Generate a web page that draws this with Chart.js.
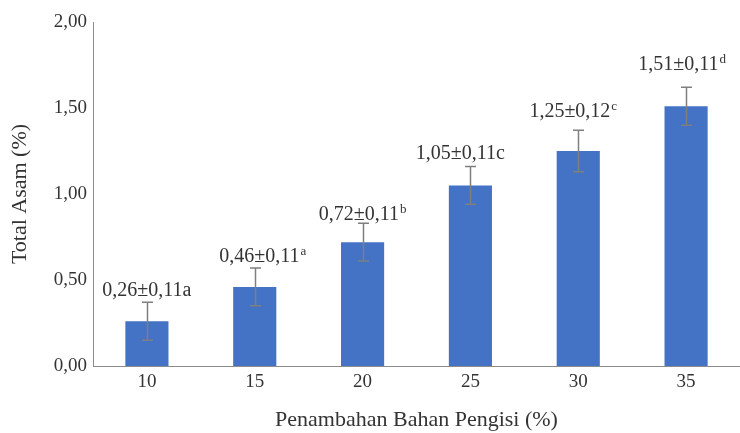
<!DOCTYPE html>
<html>
<head>
<meta charset="utf-8">
<script src="https://cdn.jsdelivr.net/npm/chart.js@4/dist/chart.umd.min.js"></script>
<style>
  html, body { margin: 0; padding: 0; background: #ffffff; }
  #wrap { width: 740px; height: 433px; position: relative; }
</style>
</head>
<body>
<div id="wrap"><canvas id="chart"></canvas></div>
<script>
// Filler percentage (x categories)
const categories = ['10', '15', '20', '25', '30', '35'];
// Mean total acid (%) and its standard deviation
const totalAsam = [0.26, 0.46, 0.72, 1.05, 1.25, 1.51];
const stdDev = [0.11, 0.11, 0.11, 0.11, 0.12, 0.11];
// Significance letters; some are printed as superscripts
const letters = ['a', 'a', 'b', 'c', 'c', 'd'];
const letterIsSup = [false, true, true, false, true, true];
// Y axis ticks
const yTicks = [0, 0.5, 1.0, 1.5, 2.0];

// Hand-placed label nudges (pixels): lift above error cap, horizontal shift
const labelLift = [6, 6, 3, 7, 13, 17];
const labelShift = [0, 8, 0, -10, -5, -4];

const serif = "'Liberation Serif', 'Times New Roman', serif";
const textColor = '#333333';
const fmt = v => v.toFixed(2).replace('.', ',');

const errorBarsAndLabels = {
  id: 'errorBarsAndLabels',
  afterDatasetsDraw(chart) {
    const { ctx, scales: { y } } = chart;
    const meta = chart.getDatasetMeta(0);
    ctx.save();
    // error bars
    ctx.strokeStyle = '#7f7f7f';
    ctx.lineWidth = 1.5;
    meta.data.forEach((bar, i) => {
      const cx = Math.round(bar.x) + 0.5;
      const yTop = y.getPixelForValue(totalAsam[i] + stdDev[i]);
      const yBot = y.getPixelForValue(totalAsam[i] - stdDev[i]);
      ctx.beginPath();
      ctx.moveTo(cx, yTop); ctx.lineTo(cx, yBot);
      ctx.moveTo(cx - 5.5, yTop); ctx.lineTo(cx + 5.5, yTop);
      ctx.moveTo(cx - 5.5, yBot); ctx.lineTo(cx + 5.5, yBot);
      ctx.stroke();
    });
    // value labels
    const mainFont = '20px ' + serif;
    const supFont = '13px ' + serif;
    ctx.fillStyle = textColor;
    ctx.textBaseline = 'alphabetic';
    ctx.textAlign = 'left';
    meta.data.forEach((bar, i) => {
      const yTop = y.getPixelForValue(totalAsam[i] + stdDev[i]);
      let main = fmt(totalAsam[i]) + '±' + fmt(stdDev[i]);
      let sup = '';
      if (letterIsSup[i]) sup = letters[i]; else main += letters[i];
      ctx.font = mainFont;
      const wMain = ctx.measureText(main).width;
      ctx.font = supFont;
      const wSup = sup ? ctx.measureText(sup).width + 1 : 0;
      const total = wMain + wSup;
      const x0 = bar.x - total / 2 + labelShift[i];
      const base = yTop - labelLift[i];
      ctx.font = mainFont;
      ctx.fillText(main, x0, base);
      if (sup) {
        ctx.font = supFont;
        ctx.fillText(sup, x0 + wMain + 1, base - 7);
      }
    });
    ctx.restore();
  }
};

function drawChart() {
  new Chart(document.getElementById('chart'), {
    type: 'bar',
    data: {
      labels: categories,
      datasets: [{
        data: totalAsam,
        backgroundColor: '#4472C4',
        borderWidth: 0,
        categoryPercentage: 1.0,
        barPercentage: 0.4
      }]
    },
    options: {
      responsive: true,
      maintainAspectRatio: false,
      animation: false,
      devicePixelRatio: 1,
      layout: { padding: { top: 22, right: 0, bottom: 0, left: 0 } },
      plugins: { legend: { display: false }, tooltip: { enabled: false } },
      scales: {
        x: {
          grid: { display: false, drawTicks: false },
          border: { display: true, color: '#8c8c8c', width: 1 },
          ticks: { color: textColor, font: { family: serif, size: 19 }, padding: 5 },
          title: {
            display: true,
            text: 'Penambahan Bahan Pengisi (%)',
            color: textColor,
            font: { family: serif, size: 22 },
            padding: { top: 0, bottom: 0 }
          },
          afterFit(scale) { scale.height = 67; }
        },
        y: {
          min: 0,
          max: 2,
          afterBuildTicks(scale) { scale.ticks = yTicks.map(v => ({ value: v })); },
          grid: { display: false, drawTicks: false },
          border: { display: true, color: '#8c8c8c', width: 1 },
          ticks: {
            color: textColor,
            font: { family: serif, size: 19 },
            padding: 6,
            callback: v => fmt(v)
          },
          title: {
            display: true,
            text: 'Total Asam (%)',
            color: textColor,
            font: { family: serif, size: 22 },
            padding: { top: 7, bottom: 0 }
          },
          afterFit(scale) { scale.width = 93; }
        }
      }
    },
    plugins: [errorBarsAndLabels]
  });
}

const fontReady = (document.fonts && document.fonts.load)
  ? Promise.all([
      document.fonts.load("20px 'Liberation Serif'"),
      document.fonts.load("13px 'Liberation Serif'")
    ]).catch(() => null)
  : Promise.resolve();
fontReady.then(drawChart);
</script>
</body>
</html>
